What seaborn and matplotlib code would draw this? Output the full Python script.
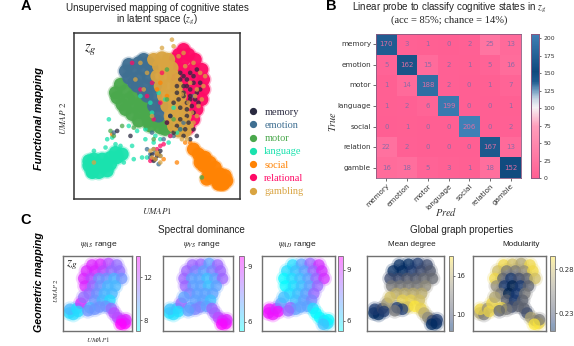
import numpy as np
import pandas as pd
import matplotlib
matplotlib.use("Agg")
import matplotlib.pyplot as plt
from matplotlib.colors import LinearSegmentedColormap, Normalize
from matplotlib.cm import ScalarMappable
import seaborn as sns

W, H = 574, 346

states = ["memory", "emotion", "motor", "language", "social", "relational", "gambling"]
colors = ["#2a2a40", "#3f6f92", "#4aa84c", "#1ae2ae", "#ff8304", "#ff0a66", "#d9a441"]

# dense part of each cloud, UMAP coordinates
motor_x = [25, 28, 26, 31, 36, 29, 35, 41, 31, 35, 40, 46, 39, 45, 50, 46, 52, 56, 55, 40, 33, 44]
motor_y = [64, 69, 61, 65, 62, 57, 56, 58, 54, 51, 52, 54, 47, 47, 47, 44, 43, 44, 42, 56, 60, 51]
emotion_x = [33, 39, 45, 31, 36, 42, 47, 33, 39, 45, 38, 44, 49, 44, 49, 48, 53, 51, 36, 42, 42]
emotion_y = [81, 82, 82, 77, 78, 78, 79, 73, 73, 73, 68, 68, 68, 62, 62, 56, 56, 50, 70, 64, 84]
language_x = [9, 13, 17, 22, 11, 15, 20, 9, 12, 17, 22, 26, 29, 25, 11, 19]
language_y = [20, 20, 20, 21, 16, 16, 17, 23, 24, 24, 25, 25, 27, 28, 17, 20]
social_x = [72, 75, 77, 76, 79, 78, 82, 81, 85, 84, 88, 87, 90, 89, 90, 87, 82, 85, 91, 92, 80]
social_y = [30, 27, 24, 22, 25, 20, 22, 17, 19, 13, 15, 10, 11, 9, 9, 9, 14, 14, 14, 11, 12]
relational_x = [66, 63, 69, 73, 66, 61, 77, 72, 66, 62, 78, 74, 68, 62, 78, 74, 68, 77, 72, 66, 74, 69, 72, 68, 69]
relational_y = [90, 87, 87, 84, 84, 84, 78, 78, 78, 78, 72, 72, 72, 72, 66, 66, 66, 60, 60, 60, 54, 54, 48, 48, 43]
gambling_x = [48, 53, 57, 51, 56, 59, 50, 55, 60, 52, 57, 62, 54, 59, 64, 56, 61, 66, 58, 63, 67, 60, 65, 68, 63, 67]
gambling_y = [84, 85, 84, 80, 80, 79, 74, 74, 74, 68, 68, 68, 62, 62, 62, 56, 56, 56, 50, 50, 50, 44, 44, 44, 41, 41]

# single points sitting on top of the clouds
memory_px = [64, 68, 72, 76, 66, 70, 74, 62, 66, 70, 75, 60, 64, 68, 72, 64, 69, 58, 62, 67, 72, 56, 60, 66, 70, 74,
             52, 68, 50, 49, 26, 34, 66, 70, 74, 68, 72, 64, 76, 62, 70, 66, 73, 63, 71, 68, 47, 51, 48]
memory_py = [76, 72, 74, 70, 68, 66, 64, 64, 62, 60, 58, 58, 55, 54, 52, 48, 46, 50, 44, 42, 42, 46, 40, 38, 36, 38,
             29, 50, 26, 24, 41, 38, 74, 76, 78, 68, 70, 72, 66, 68, 62, 64, 60, 60, 56, 58, 27, 27, 23]
emotion_px = [72, 58, 66, 60, 54, 47, 49, 44, 52, 64, 46, 24, 51, 46, 48]
emotion_py = [62, 50, 46, 38, 36, 40, 28, 30, 26, 42, 27, 40, 21, 25, 30]
motor_px = [29, 22, 36, 77, 56, 60, 64, 24, 43, 48, 56]
motor_py = [44, 41, 43, 13, 60, 48, 42, 38, 44, 36, 78]
language_px = [21, 33, 38, 43, 20, 25, 19, 12, 28, 35, 30, 36, 41, 44, 57, 48, 52, 58, 55, 47, 60, 46, 51, 40, 62, 49, 43, 23]
language_py = [48, 44, 41, 42, 36, 33, 31, 29, 32, 32, 22, 24, 25, 25, 34, 34, 36, 38, 60, 52, 55, 58, 64, 62, 40, 38, 36, 37]
social_px = [23, 62, 54, 67, 52, 50, 70, 56, 48]
social_py = [39, 22, 24, 34, 70, 66, 34, 62, 24]
relational_px = [52, 44, 48, 56, 40, 47, 53, 35, 50, 52, 47, 58, 54, 50, 46]
relational_py = [58, 62, 48, 46, 66, 70, 76, 82, 30, 32, 24, 38, 33, 27, 23]
gambling_px = [63, 67, 72, 76, 78, 62, 70, 74, 65, 60, 69, 75, 64, 71, 77, 44, 40, 37, 42, 47, 50, 49, 52, 12, 60, 53, 66, 72, 59, 68,
               48, 50, 47, 46, 52, 73, 79, 67, 71, 65, 74, 61, 69]
gambling_py = [86, 80, 82, 76, 68, 74, 70, 66, 63, 66, 58, 56, 52, 52, 60, 76, 82, 72, 66, 50, 28, 24, 22, 22, 92, 91, 88, 46, 96, 36,
               30, 27, 25, 29, 26, 62, 74, 48, 44, 36, 50, 42, 40]

# confusion matrix, rows are true labels
probe_labels = ["memory", "emotion", "motor", "language", "social", "relation", "gamble"]
confusion = [[170, 3, 1, 0, 2, 25, 13],
             [5, 162, 15, 2, 1, 5, 16],
             [1, 14, 188, 2, 0, 1, 7],
             [1, 2, 6, 199, 0, 0, 1],
             [0, 1, 0, 0, 206, 0, 2],
             [22, 2, 0, 0, 0, 167, 13],
             [16, 18, 5, 3, 1, 18, 152]]

# shared points of the five small maps
map_x = [42, 54, 66, 78, 34, 46, 58, 70, 82, 30, 41, 52, 63, 74, 85, 32, 43, 54, 65, 76, 38, 49, 60, 71, 46, 57, 68, 53, 62,
         9, 15, 10, 20, 26, 30, 22, 39, 46, 36,
         70, 74, 79, 85, 90, 91, 84]
map_y = [88, 89, 90, 88, 80, 80, 80, 80, 80, 70, 70, 70, 70, 70, 70, 60, 60, 60, 60, 60, 50, 50, 50, 50, 41, 41, 41, 32, 33,
         24, 22, 29, 30, 37, 45, 26, 31, 29, 27,
         30, 24, 18, 14, 10, 15, 9]
psi_as = [13, 13, 12, 11, 13, 13, 12, 11, 11, 13, 12, 10, 10, 9, 10, 13, 11, 10, 9, 9, 11, 10, 9, 9, 10, 9, 8, 10, 10,
          8, 8, 9, 8, 13, 11, 8, 9, 10, 10,
          11, 12, 12, 13, 14, 13, 14]
psi_vs = [8, 8, 7, 8, 8, 7.5, 7, 7.5, 8, 8, 7, 7, 6.5, 7, 8, 8, 7, 7, 6.5, 7, 7.5, 7, 7, 7, 7, 7, 6.5, 7.5, 7,
          6, 6, 6.5, 6.5, 8, 7, 6, 7, 7.5, 7,
          8, 8, 8.5, 9, 9.5, 9, 9.5]
psi_ad = [6, 7, 8, 9, 6, 6.5, 7, 8, 9, 5.5, 6, 6.5, 7, 8, 9, 5.5, 6, 6.5, 7, 8, 6, 6.5, 7, 8, 6.5, 7, 7.5, 7, 7,
          9.5, 9.5, 9.5, 9, 7, 6.5, 9.5, 8, 7, 8,
          6, 5.5, 5.5, 6, 6, 5.5, 6.5]
mean_degree = [8, 8, 9, 10, 8, 8, 9, 10, 11, 10, 10, 11, 11, 12, 12, 13, 13, 13, 13, 14, 16, 16, 16, 16, 18, 18, 17, 17, 19,
               8, 8, 9, 10, 15, 17, 9, 9, 9, 13,
               18, 16, 14, 10, 8, 9, 8]
modularity = [0.29, 0.28, 0.27, 0.29, 0.28, 0.25, 0.25, 0.26, 0.29, 0.29, 0.24, 0.22, 0.23, 0.24, 0.28, 0.26, 0.22, 0.21, 0.22, 0.24, 0.25, 0.21, 0.22, 0.25, 0.24, 0.22, 0.24, 0.23, 0.24,
              0.27, 0.25, 0.29, 0.26, 0.29, 0.27, 0.29, 0.29, 0.25, 0.24,
              0.24, 0.23, 0.27, 0.26, 0.29, 0.25, 0.30]


def px_axes(fig, left, top, right, bottom):
    return fig.add_axes([left / W, 1 - bottom / H, (right - left) / W, (bottom - top) / H])


def px_text(fig, x, y, s, **kw):
    kw.setdefault("ha", "center")
    kw.setdefault("va", "center")
    kw.setdefault("family", "Liberation Sans")
    fig.text(x / W, 1 - y / H, s, **kw)


def draw_map(fig, box, cbox, values, cmap, vmin, vmax, ticks, labels):
    ax = px_axes(fig, *box)
    # pale halo first, then the discs
    sns.scatterplot(x=map_x, y=map_y, hue=values, palette=cmap, hue_norm=(vmin, vmax),
                    s=130, alpha=0.22, linewidth=0, legend=False, ax=ax)
    sns.scatterplot(x=map_x, y=map_y, hue=values, palette=cmap, hue_norm=(vmin, vmax),
                    s=70, alpha=0.7, linewidth=0, legend=False, ax=ax)
    ax.set(xlim=(0, 100), ylim=(0, 100), xticks=[], yticks=[], xlabel="", ylabel="")
    for sp in ax.spines.values():
        sp.set_color("#707070")
        sp.set_linewidth(1)
    cax = px_axes(fig, *cbox)
    cb = fig.colorbar(ScalarMappable(Normalize(vmin, vmax), cmap), cax=cax, alpha=0.45)
    cb.set_ticks(ticks, labels=labels)
    cb.ax.tick_params(labelsize=5, length=1.5, width=0.5, pad=1, colors="#333333")
    cb.outline.set_edgecolor("#707070")
    cb.outline.set_linewidth(0.6)
    return ax


sns.set_theme(style="white")
plt.rcParams["mathtext.fontset"] = "stix"
plt.rcParams["font.family"] = ["DejaVu Sans"]

fig = plt.figure(figsize=(W / 100, H / 100), dpi=100)

# panel A
core = pd.concat([
    pd.DataFrame({"x": motor_x, "y": motor_y, "state": "motor"}),
    pd.DataFrame({"x": emotion_x, "y": emotion_y, "state": "emotion"}),
    pd.DataFrame({"x": language_x, "y": language_y, "state": "language"}),
    pd.DataFrame({"x": social_x, "y": social_y, "state": "social"}),
    pd.DataFrame({"x": relational_x, "y": relational_y, "state": "relational"}),
    pd.DataFrame({"x": gambling_x, "y": gambling_y, "state": "gambling"}),
])
strays = pd.concat([
    pd.DataFrame({"x": language_px, "y": language_py, "state": "language"}),
    pd.DataFrame({"x": social_px, "y": social_py, "state": "social"}),
    pd.DataFrame({"x": motor_px, "y": motor_py, "state": "motor"}),
    pd.DataFrame({"x": emotion_px, "y": emotion_py, "state": "emotion"}),
    pd.DataFrame({"x": relational_px, "y": relational_py, "state": "relational"}),
    pd.DataFrame({"x": memory_px, "y": memory_py, "state": "memory"}),
    pd.DataFrame({"x": gambling_px, "y": gambling_py, "state": "gambling"}),
])
palette = dict(zip(states, colors))

ax = px_axes(fig, 74, 33, 240, 199)
sns.scatterplot(data=core, x="x", y="y", hue="state", palette=palette, s=135, alpha=0.3,
                linewidth=0, legend=False, ax=ax)
sns.scatterplot(data=core, x="x", y="y", hue="state", palette=palette, s=90, alpha=0.95,
                linewidth=0, legend=False, ax=ax)
sns.scatterplot(data=strays, x="x", y="y", hue="state", palette=palette, s=11, alpha=0.75,
                linewidth=0, legend=False, ax=ax)
ax.set(xlim=(0, 100), ylim=(0, 100), xticks=[], yticks=[], xlabel="", ylabel="")
for sp in ax.spines.values():
    sp.set_color("#333333")
    sp.set_linewidth(1.1)
ax.text(0.10, 0.90, r"$z_g$", transform=ax.transAxes, fontsize=11, ha="center", va="center", color="#222222")

handles = [plt.Line2D([], [], marker="o", ls="", ms=4.2, color=c) for c in colors]
leg = fig.legend(handles, states, loc="upper left", bbox_to_anchor=(233 / W, 1 - 98 / H),
                 frameon=False, labelspacing=0.38, handletextpad=0.1,
                 prop={"family": "Liberation Serif", "size": 7.5})
for t, c in zip(leg.get_texts(), colors):
    t.set_color(c)

px_text(fig, 157, 8, "Unsupervised mapping of cognitive states", fontsize=7.1, color="#222222")
px_text(fig, 157, 20, r"in latent space ($z_g$)", fontsize=7.1, color="#222222")
px_text(fig, 26, 6, "A", fontsize=10.5, fontweight="bold", color="black")
px_text(fig, 39, 119, "Functional mapping", fontsize=7.8, fontweight="bold", style="italic", rotation=90, color="black")
px_text(fig, 63, 118, r"$UMAP\ 2$", fontsize=6.5, rotation=90, color="#333333")
px_text(fig, 157, 211, r"$UMAP1$", fontsize=6.5, color="#333333")

# panel B
probe_cmap = LinearSegmentedColormap.from_list("probe", [
    (0.0, "#ff5f93"), (0.36, "#ff9dbb"), (0.49, "#f4f2f4"), (0.55, "#c6d6e4"),
    (0.61, "#6f9cc0"), (0.67, "#1f5c90"), (0.74, "#104a7e"), (1.0, "#3f80b6")])
hax = px_axes(fig, 376, 34, 521, 178)
cax = px_axes(fig, 531, 34, 539, 178)
sns.heatmap(np.array(confusion), annot=True, fmt="d", cmap=probe_cmap, vmin=0, vmax=206,
            xticklabels=probe_labels, yticklabels=probe_labels, ax=hax, cbar_ax=cax,
            annot_kws={"fontsize": 5.0})
for t, v in zip(hax.texts, np.array(confusion).ravel()):
    t.set_color("#e26fa4" if v > 120 else "#8a6aa6")
    t.set_alpha(0.95)
hax.tick_params(axis="y", labelsize=5.2, length=2, width=0.5, pad=1.5, rotation=0, left=True, colors="#333333")
hax.tick_params(axis="x", labelsize=5.2, length=2, width=0.5, pad=1.5, bottom=True, colors="#333333")
plt.setp(hax.get_xticklabels(), rotation=45, ha="right", rotation_mode="anchor")
for sp in hax.spines.values():
    sp.set_visible(True)
    sp.set_color("#8a5a80")
    sp.set_linewidth(0.6)
cax.tick_params(labelsize=4.4, length=1.5, width=0.5, pad=1.5, colors="#333333")
cax.set_yticks(range(0, 201, 25))
for sp in cax.spines.values():
    sp.set_visible(True)
    sp.set_color("#8a5a80")
    sp.set_linewidth(0.6)

px_text(fig, 449, 8, r"Linear probe to classify cognitive states in $z_g$", fontsize=7.1, color="#222222")
px_text(fig, 449, 20, "(acc = 85%; chance = 14%)", fontsize=7.6, family="Liberation Serif", color="#222222")
px_text(fig, 331, 6, "B", fontsize=10.5, fontweight="bold", color="black")
px_text(fig, 333, 121, r"$True$", fontsize=7.5, rotation=90, color="#333333")
px_text(fig, 446, 212, r"$Pred$", fontsize=7.5, color="#333333")

# panel C
draw_map(fig, (63, 256, 132, 331), (136, 256, 140, 331), psi_as, "cool", 7, 14, [8, 12], ["8", "12"])
draw_map(fig, (163, 256, 233, 331), (239, 256, 244, 331), psi_vs, "cool", 5.5, 9.6, [6, 9], ["6", "9"])
draw_map(fig, (262, 256, 335, 331), (338, 256, 343, 331), psi_ad, "cool", 5.4, 9.8, [6, 9], ["6", "9"])
draw_map(fig, (367, 256, 444, 331), (449, 256, 453, 331), mean_degree, "cividis", 7.5, 19, [10, 16], ["10", "16"])
draw_map(fig, (473, 256, 546, 331), (550, 256, 555, 331), modularity, "cividis", 0.21, 0.295,
         [0.23, 0.28], ["0.23", "0.28"])
px_text(fig, 72, 265, r"$z_g$", fontsize=9.5, color="#222222")

px_text(fig, 201, 230, "Spectral dominance", fontsize=7.1, color="#222222")
px_text(fig, 462, 230, "Global graph properties", fontsize=7.1, color="#222222")
px_text(fig, 99, 245, r"$\psi_{AS}$ range", fontsize=6.1, color="#222222")
px_text(fig, 202, 245, r"$\psi_{VS}$ range", fontsize=6.1, color="#222222")
px_text(fig, 298, 245, r"$\psi_{AD}$ range", fontsize=6.1, color="#222222")
px_text(fig, 412, 245, "Mean degree", fontsize=5.9, color="#222222")
px_text(fig, 521, 245, "Modularity", fontsize=5.9, color="#222222")
px_text(fig, 26, 220, "C", fontsize=10.5, fontweight="bold", color="black")
px_text(fig, 39, 282, "Geometric mapping", fontsize=7.7, fontweight="bold", style="italic", rotation=90, color="black")
px_text(fig, 56, 290, r"$UMAP\ 2$", fontsize=4.8, rotation=90, color="#333333")
px_text(fig, 98, 340, r"$UMAP1$", fontsize=5, color="#333333")

fig.savefig("out.png", dpi=100)
